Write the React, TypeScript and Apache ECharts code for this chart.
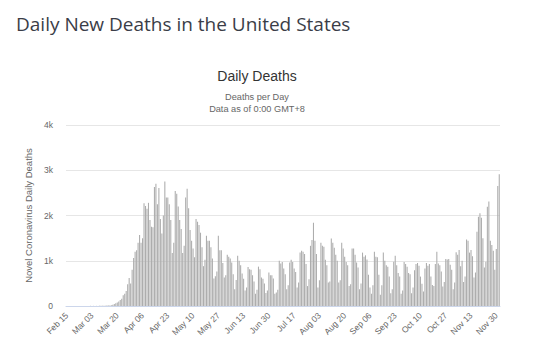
import React, { useEffect, useRef } from "react";
import * as echarts from "echarts";

const START = { year: 2020, month: 1, day: 15 }; // Feb 15, 2020 (month 0-based)
const DAY_COUNT = 292; // Feb 15 .. Dec 2
const MONTHS = ["Jan", "Feb", "Mar", "Apr", "May", "Jun", "Jul", "Aug", "Sep", "Oct", "Nov", "Dec"];

const categories: string[] = [];
for (let i = 0; i < DAY_COUNT; i++) {
  const d = new Date(Date.UTC(START.year, START.month, START.day + i));
  categories.push(MONTHS[d.getUTCMonth()] + " " + String(d.getUTCDate()).padStart(2, "0"));
}

// Daily deaths, Feb 15 .. Dec 2
const deathsFebMar = [
  0, 0, 0, 0, 0, 0, 0, 0, 0, 0, 0, 0, 0, 0,
  1, 1, 4, 1, 3, 1, 3, 2, 3, 4, 5, 8, 7, 10, 10, 12, 18,
  30, 45, 60, 75, 100, 130, 160, 240, 270, 330, 480, 620, 500, 800, 1060,
  1200, 1230, 1400, 1570, 1400, 1500,
];
const deathsAprMay = [
  2270, 2210, 2150, 2280, 1900, 1750, 1740,
  2630, 2700, 2250, 2610, 1920, 1600, 2000,
  2750, 2400, 2400, 2250, 1900, 1170, 1400,
  2540, 2480, 2200, 1900, 1700, 1170, 1330,
  2400, 2590, 2160, 1680, 1440, 1270, 1080,
  1920, 1860, 1790, 1620, 1300, 880, 1020,
  1550, 1440, 1440, 1300, 1050, 610, 660,
  760, 1550, 1230, 1230, 950, 630, 680,
];
const deathsJunAug = [
  1130, 1090, 1050, 960, 700, 370, 575,
  1110, 1000, 900, 720, 600, 340, 410,
  860, 810, 800, 680, 540, 270, 360,
  870, 810, 630, 600, 500, 290, 340,
  740, 680, 680, 610, 270, 300, 360,
  1000, 940, 970, 830, 700, 370, 460,
  960, 1020, 970, 830, 750, 410, 520,
  1180, 1220, 1200, 1150, 930, 440, 590,
  1330, 1460, 1840, 1440, 1150, 410, 570,
  1400, 1330, 1310, 1020, 900, 520, 540,
  1490, 1400, 1290, 1130, 1000, 520, 570,
  1400, 1270, 1090, 970, 900, 440, 480,
  1270, 1270, 1130, 960, 850, 370, 500,
];
const deathsSepDec = [
  1180, 1090, 1120, 1030, 690, 410, 270,
  460, 1200, 1090, 1080, 690, 250, 460,
  1180, 1000, 900, 870, 650, 280, 370,
  980, 1110, 900, 730, 650, 270, 340,
  970, 930, 870, 730, 700, 280, 410,
  790, 930, 950, 890, 650, 490, 320,
  830, 950, 890, 930, 650, 464, 440,
  930, 1200, 940, 900, 760, 430, 530,
  1040, 1030, 1040, 910, 800, 370, 520,
  1190, 1130, 1240, 880, 1000, 530, 650,
  1470, 1440, 1180, 1240, 1100, 630, 740,
  1640, 1970, 2050, 1950, 1500, 850, 980,
  2195, 2310, 1440, 1350, 1220, 800, 1260,
  2650, 2910,
];
const dailyDeaths = [...deathsFebMar, ...deathsAprMay, ...deathsJunAug, ...deathsSepDec];

const yTicks = [0, 1000, 2000, 3000, 4000];

const AXIS_FONT = "'Liberation Sans', Arial, Helvetica, sans-serif";

export default function App() {
  const ref = useRef<HTMLDivElement>(null);
  useEffect(() => {
    if (!ref.current) return;
    const chart = echarts.init(ref.current, undefined, { renderer: "svg" });
    chart.setOption({
      animation: false,
      backgroundColor: "#ffffff",
      graphic: [
        {
          type: "text",
          left: 16,
          top: 14,
          style: {
            text: "Daily New Deaths in the United States",
            font: "normal 19px 'Open Sans', 'Noto Sans', sans-serif",
            fill: "#3a3d47",
          },
        },
        {
          type: "text",
          x: 257,
          y: 76,
          style: {
            text: "Daily Deaths",
            font: "normal 14px " + AXIS_FONT,
            fill: "#333333",
            align: "center",
            verticalAlign: "middle",
          },
        },
        {
          type: "text",
          x: 257,
          y: 97,
          style: {
            text: "Deaths per Day",
            font: "normal 9.2px " + AXIS_FONT,
            fill: "#666666",
            align: "center",
            verticalAlign: "middle",
          },
        },
        {
          type: "text",
          x: 257,
          y: 109,
          style: {
            text: "Data as of 0:00 GMT+8",
            font: "normal 9.2px " + AXIS_FONT,
            fill: "#666666",
            align: "center",
            verticalAlign: "middle",
          },
        },
      ],
      grid: { left: 66, right: 34, top: 125, height: 181, containLabel: false },
      xAxis: {
        type: "category",
        data: categories,
        boundaryGap: true,
        axisLine: { show: true, lineStyle: { color: "#ccd6eb", width: 1 } },
        axisTick: { show: false },
        axisLabel: {
          interval: 16,
          rotate: 45,
          margin: 8,
          color: "#666666",
          fontSize: 8.5,
          fontFamily: AXIS_FONT,
        },
        splitLine: { show: false },
      },
      yAxis: {
        type: "value",
        min: yTicks[0],
        max: yTicks[yTicks.length - 1],
        interval: 1000,
        name: "Novel Coronavirus Daily Deaths",
        nameLocation: "middle",
        nameGap: 28,
        nameTextStyle: { color: "#666666", fontSize: 9.5, fontFamily: AXIS_FONT },
        axisLine: { show: false },
        axisTick: { show: false },
        axisLabel: {
          margin: 13,
          color: "#666666",
          fontSize: 8.5,
          fontFamily: AXIS_FONT,
          formatter: (v: number) => (v === 0 ? "0" : v / 1000 + "k"),
        },
        splitLine: { lineStyle: { color: "#e6e6e6", width: 1 } },
      },
      series: [
        {
          type: "bar",
          data: dailyDeaths,
          itemStyle: { color: "#adadad" },
          barCategoryGap: "28%",
        },
      ],
    });
    return () => chart.dispose();
  }, []);
  return (
    <div
      ref={ref}
      style={{ position: "fixed", left: 0, top: 0, width: 534, height: 352 }}
    />
  );
}
